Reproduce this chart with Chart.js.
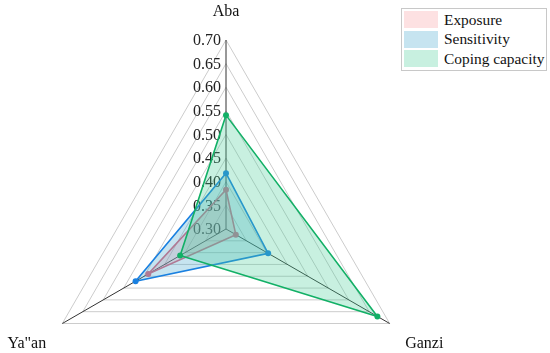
<!DOCTYPE html>
<html>
<head>
<meta charset="utf-8">
<script src="https://cdn.jsdelivr.net/npm/chart.js@4/dist/chart.umd.min.js"></script>
<style>
    html, body { margin: 0; padding: 0; background: #fff; }
    #wrap { position: relative; width: 550px; height: 353px; }
    #legend {
        position: absolute; left: 401px; top: 8px;
        border: 1px solid #c8c8c8; background: #fff; padding: 1px 2px 1px 2px;
        font-family: "Liberation Serif", "Times New Roman", serif; font-size: 15.4px; color: #111;
        white-space: nowrap;
    }
    .item { display: flex; align-items: center; height: 19.5px; }
    .swatch { width: 34px; height: 17px; margin-right: 6px; }
</style>
</head>
<body>
<div id="wrap">
    <canvas id="radarChart" width="550" height="353"></canvas>
    <div id="legend"></div>
</div>
<script>
const axisLabels = ['Aba', 'Ganzi', 'Ya"an'];
const exposure = [0.383, 0.324, 0.490];
const sensitivity = [0.418, 0.403, 0.521];
const copingCapacity = [0.541, 0.670, 0.412];
const tickValues = [0.30, 0.35, 0.40, 0.45, 0.50, 0.55, 0.60, 0.65, 0.70];

const seriesNames = ['Exposure', 'Sensitivity', 'Coping capacity'];
const lineColors = ['#e0667c', '#1a80e0', '#12b066'];
const fillColors = ['rgba(248, 138, 142, 0.26)', 'rgba(65, 165, 205, 0.3)', 'rgba(72, 205, 152, 0.3)'];

const serif = '"Liberation Serif", "Times New Roman", serif';

// axis labels and tick labels drawn next to the scale
const labelPlugin = {
    id: 'radarText',
    beforeDatasetsDraw(chart) {
        const scale = chart.scales.r;
        const ctx = chart.ctx;
        ctx.save();
        ctx.font = '16px ' + serif;
        ctx.fillStyle = '#222';
        ctx.textAlign = 'right';
        ctx.textBaseline = 'middle';
        tickValues.forEach(v => {
            const d = scale.getDistanceFromCenterForValue(v);
            ctx.fillText(v.toFixed(2), scale.xCenter - 5, scale.yCenter - d + 1);
        });
        ctx.restore();
    },
    afterDraw(chart) {
        const scale = chart.scales.r;
        const ctx = chart.ctx;
        const pads = [28, 40, 41];
        ctx.save();
        ctx.font = '16px ' + serif;
        ctx.fillStyle = '#111';
        ctx.textAlign = 'center';
        ctx.textBaseline = 'middle';
        axisLabels.forEach((lab, i) => {
            const p = scale.getPointPosition(i, scale.drawingArea + pads[i]);
            ctx.fillText(lab, p.x, p.y);
        });
        ctx.restore();
    }
};

const datasets = [exposure, sensitivity, copingCapacity].map((vals, i) => ({
    label: seriesNames[i],
    data: vals,
    borderColor: lineColors[i],
    backgroundColor: fillColors[i],
    borderWidth: 1.6,
    fill: true,
    pointRadius: 3,
    pointBackgroundColor: lineColors[i],
    pointBorderColor: lineColors[i],
    pointBorderWidth: 0,
    order: 3 - i
}));

new Chart(document.getElementById('radarChart').getContext('2d'), {
    type: 'radar',
    data: { labels: axisLabels, datasets },
    plugins: [labelPlugin],
    options: {
        responsive: false,
        animation: false,
        events: [],
        layout: { padding: 0 },
        elements: { line: { tension: 0 } },
        plugins: { legend: { display: false }, tooltip: { enabled: false } },
        scales: {
            r: {
                min: 0.30,
                max: 0.70,
                ticks: { stepSize: 0.05, display: false },
                grid: { color: '#cccccc', lineWidth: 1 },
                angleLines: { color: '#333', lineWidth: 1 },
                pointLabels: { display: false },
                afterFit(axis) {
                    axis.xCenter = 226;
                    axis.yCenter = 229;
                    axis.drawingArea = 189;
                }
            }
        }
    }
});

const legend = document.getElementById('legend');
seriesNames.forEach((name, i) => {
    const row = document.createElement('div');
    row.className = 'item';
    row.innerHTML = `<span class="swatch" style="background:${fillColors[i]}"></span><span>${name}</span>`;
    legend.appendChild(row);
});
</script>
</body>
</html>
